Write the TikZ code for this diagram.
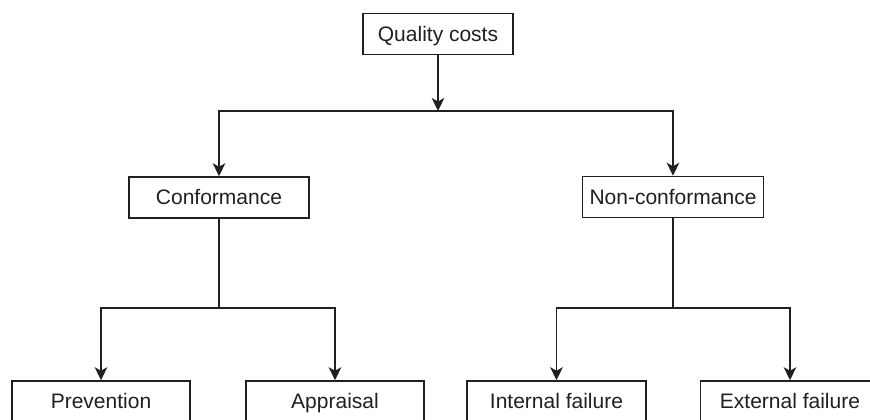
\documentclass[tikz,border=0pt]{standalone}
\usepackage{fontspec}
\setmainfont{Liberation Sans}
\usetikzlibrary{arrows.meta}
\definecolor{ink}{HTML}{231F20}
\begin{document}
\begin{tikzpicture}[x=1pt,y=-1pt,
  costbox/.style={draw=ink,line width=1.5pt,rectangle,minimum width=179pt,minimum height=41pt,
    inner sep=0pt,text=ink,text height=15pt,text depth=0.5pt,font=\fontsize{21}{25}\selectfont},
  link/.style={draw=ink,line width=1.5pt},
  arr/.style={link,-{Stealth[length=13pt,width=12.5pt,inset=3.5pt]}}]
\useasboundingbox (0,0) rectangle (870,420);
\clip (0,0) rectangle (870,420);
\fill[white] (0,0) rectangle (870,420);
% tree of cost categories
\node[costbox,minimum width=150pt] (qc) at (438,34) {Quality costs};
\node[costbox,minimum width=180pt] (conf) at (219,197.5) {Conformance};
\node[costbox,minimum width=181pt] (nonc) at (673,197) {Non-conformance};
\node[costbox,minimum width=178pt] (prev) at (101,401.5) {Prevention};
\node[costbox,minimum width=178pt] (appr) at (335,401.5) {Appraisal};
\node[costbox] (intf) at (556.5,401.5) {Internal failure};
\node[costbox] (extf) at (790,401.5) {External failure};
% junction points of the branches
\coordinate (j1) at (438,111);
\coordinate (j2) at (219,308);
\coordinate (j3) at (673,308);
% connectors
\draw[arr] (qc) -- (j1);
\draw[arr] (j1) -| (conf.north);
\draw[arr] (j1) -| (nonc.north);
\draw[link] (conf) -- (j2);
\draw[arr] (j2) -| (prev.north);
\draw[arr] (j2) -| (appr.north);
\draw[link] (nonc) -- (j3);
\draw[arr] (j3) -| (intf.north);
\draw[arr] (j3) -| (extf.north);
\end{tikzpicture}
\end{document}
